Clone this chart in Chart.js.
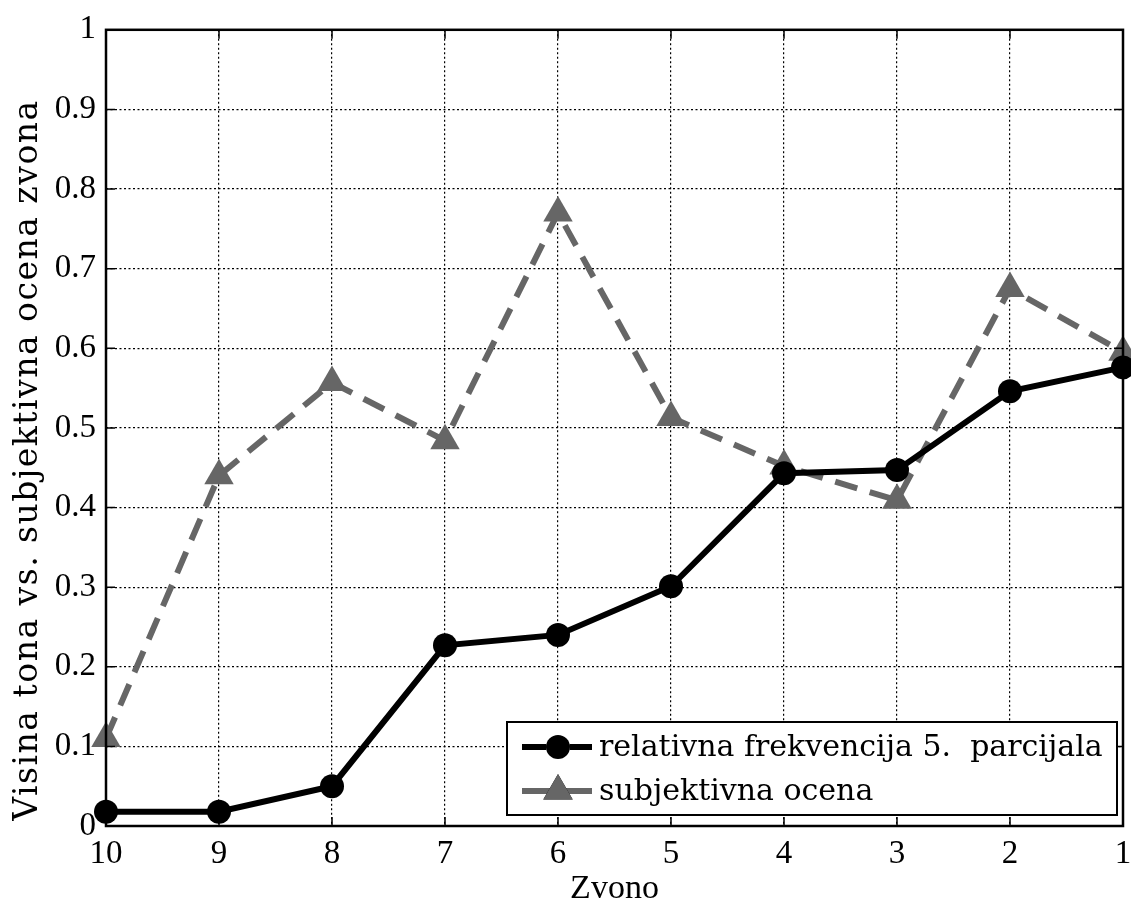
<!DOCTYPE html>
<html lang="en">
  <head>
    <meta charset="UTF-8" />
    <title>Zvono</title>
    <script src="https://cdn.jsdelivr.net/npm/chart.js"></script>
    <style>
      body {
        margin: 0;
        background: #fff;
      }
      .chart-container {
        width: 1131px;
        height: 907px;
        position: relative;
      }
    </style>
  </head>
  <body>
    <div class="chart-container">
      <canvas id="zvonoChart"></canvas>
    </div>

    <script>
      // bells, plotted from 10 down to 1
      var bells = ["10", "9", "8", "7", "6", "5", "4", "3", "2", "1"];
      var relFrequency = [0.018, 0.018, 0.05, 0.227, 0.24, 0.301, 0.443, 0.447, 0.546, 0.576];
      var subjective = [0.11, 0.44, 0.557, 0.484, 0.77, 0.513, 0.452, 0.409, 0.675, 0.595];
      var yTicks = [0, 0.1, 0.2, 0.3, 0.4, 0.5, 0.6, 0.7, 0.8, 0.9, 1];
      var yTickLabels = ["0", "0.1", "0.2", "0.3", "0.4", "0.5", "0.6", "0.7", "0.8", "0.9", "1"];
      var seriesNames = ["relativna frekvencija 5.  parcijala", "subjektivna ocena"];

      var tickFont = { family: "Liberation Serif", size: 33 };

      // box around the axes, inner ticks, y label and legend like matlab
      var matlabFrame = {
        id: "matlabFrame",
        afterDatasetsDraw: function (chart) {
          var ctx = chart.ctx;
          var a = chart.chartArea;
          var xs = chart.scales.x;
          var ys = chart.scales.y;
          ctx.save();
          ctx.strokeStyle = "#000";
          ctx.lineWidth = 1.5;
          ctx.setLineDash([]);
          ctx.beginPath();
          xs.ticks.forEach(function (t, i) {
            var px = xs.getPixelForTick(i);
            ctx.moveTo(px, a.bottom);
            ctx.lineTo(px, a.bottom - 9);
            ctx.moveTo(px, a.top);
            ctx.lineTo(px, a.top + 9);
          });
          ys.ticks.forEach(function (t, i) {
            var py = ys.getPixelForTick(i);
            ctx.moveTo(a.left, py);
            ctx.lineTo(a.left + 9, py);
            ctx.moveTo(a.right, py);
            ctx.lineTo(a.right - 9, py);
          });
          ctx.stroke();
          ctx.lineWidth = 2.5;
          ctx.strokeRect(a.left, a.top, a.right - a.left, a.bottom - a.top);

          // y label
          ctx.save();
          ctx.translate(28, 460);
          ctx.rotate(-Math.PI / 2);
          ctx.font = "33px 'DejaVu Serif'";
          ctx.letterSpacing = "1.5px";
          ctx.fillStyle = "#000";
          ctx.textAlign = "center";
          ctx.textBaseline = "middle";
          ctx.fillText("Visina tona vs. subjektivna ocena zvona", 0, 0);
          ctx.restore();

          // legend box in lower right corner
          var lx = 507, ly = 722, lw = 610, lh = 93;
          ctx.fillStyle = "#fff";
          ctx.fillRect(lx, ly, lw, lh);
          ctx.lineWidth = 2;
          ctx.strokeRect(lx, ly, lw, lh);
          ctx.font = "30px 'DejaVu Serif'";
          ctx.textAlign = "left";
          ctx.textBaseline = "middle";
          chart.data.datasets.forEach(function (ds, i) {
            var cy = ly + 25 + i * 44;
            ctx.strokeStyle = ds.borderColor;
            ctx.lineWidth = ds.borderWidth;
            ctx.beginPath();
            ctx.moveTo(lx + 15, cy);
            ctx.lineTo(lx + 85, cy);
            ctx.stroke();
            Chart.helpers.drawPoint(ctx, {
              pointStyle: ds.pointStyle,
              radius: ds.pointRadius,
              borderWidth: 0,
              rotation: 0
            }, lx + 51, cy);
            ctx.fillStyle = ds.backgroundColor;
            ctx.fill();
            ctx.fillStyle = "#000";
            ctx.fillText(ds.label, lx + 92, cy + 1);
          });
          ctx.restore();
        }
      };

      new Chart(document.getElementById("zvonoChart").getContext("2d"), {
        type: "line",
        data: {
          labels: bells,
          datasets: [
            {
              label: seriesNames[0],
              data: relFrequency,
              borderColor: "#000000",
              backgroundColor: "#000000",
              borderWidth: 6,
              pointStyle: "circle",
              pointRadius: 12,
              pointBorderWidth: 0,
              tension: 0,
              clip: false
            },
            {
              label: seriesNames[1],
              data: subjective,
              borderColor: "#666666",
              backgroundColor: "#666666",
              borderWidth: 6,
              borderDash: [23, 13],
              pointStyle: "triangle",
              pointRadius: 17,
              pointBorderWidth: 0,
              tension: 0,
              clip: false
            }
          ]
        },
        options: {
          responsive: true,
          maintainAspectRatio: false,
          animation: false,
          layout: {
            autoPadding: false,
            padding: { left: 0, top: 23, right: 0, bottom: 0 }
          },
          plugins: {
            legend: { display: false },
            tooltip: { enabled: false }
          },
          scales: {
            x: {
              type: "category",
              offset: false,
              grid: {
                color: "#000",
                lineWidth: 1.2,
                drawTicks: false
              },
              border: { display: false, dash: [2, 2.5] },
              ticks: {
                color: "#000",
                font: tickFont,
                padding: 9,
                maxRotation: 0,
                autoSkip: false
              },
              title: {
                display: true,
                text: "Zvono",
                color: "#000",
                font: { family: "Liberation Serif", size: 34, lineHeight: 1 },
                padding: { top: 0, bottom: 1 }
              },
              afterFit: function (s) {
                s.height = 81;
                s.paddingLeft = 0;
                s.paddingRight = 8;
              }
            },
            y: {
              min: 0,
              max: 1,
              grid: {
                color: "#000",
                lineWidth: 1.2,
                drawTicks: false
              },
              border: { display: false, dash: [2, 2.5] },
              ticks: {
                color: "#000",
                font: tickFont,
                padding: 10,
                callback: function (v, i) {
                  return yTickLabels[i];
                }
              },
              afterBuildTicks: function (s) {
                s.ticks = yTicks.map(function (v) {
                  return { value: v };
                });
              },
              afterFit: function (s) {
                s.width = 106;
              }
            }
          }
        },
        plugins: [matlabFrame]
      });
    </script>
  </body>
</html>
